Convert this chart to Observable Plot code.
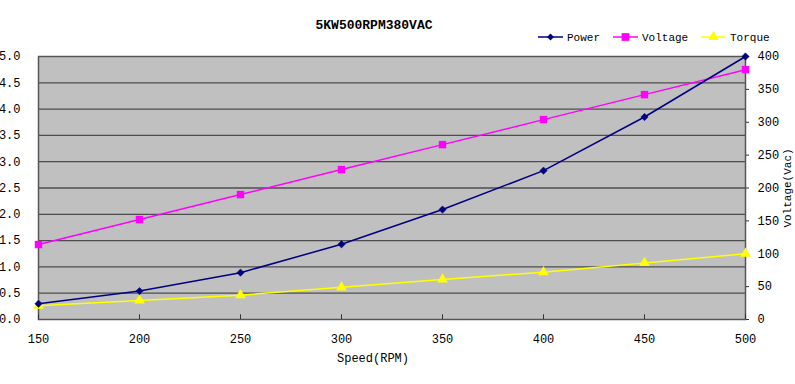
<!DOCTYPE html>
<html><head><meta charset="utf-8">
<script src="https://cdn.jsdelivr.net/npm/d3@7"></script>
<script src="https://cdn.jsdelivr.net/npm/@observablehq/plot@0.6"></script>
<style>
body{margin:0;background:#fff;}
#wrap{position:relative;width:795px;height:384px;font-family:"Liberation Mono","DejaVu Sans Mono",monospace;}
#title{position:absolute;left:0;width:748px;top:18px;text-align:center;font-weight:bold;font-size:13px;}
#legend{position:absolute;left:0;top:0;}
</style></head>
<body><div id="wrap"><div id="title">5KW500RPM380VAC</div></div>
<script>
const speeds = [150, 200, 250, 300, 350, 400, 450, 500];
const power = [0.30, 0.54, 0.89, 1.43, 2.09, 2.83, 3.85, 5.0];      // left axis (kW)
const voltage = [114, 152, 190, 228, 266, 304, 342, 380];           // right axis (Vac)
const torque = [21, 29, 37, 49, 61, 72, 86, 100];                   // right axis scale
const leftTicks = [0, 0.5, 1, 1.5, 2, 2.5, 3, 3.5, 4, 4.5, 5];
const rightTicks = [0, 50, 100, 150, 200, 250, 300, 350, 400];
const xTicks = [150, 200, 250, 300, 350, 400, 450, 500];
const seriesNames = ["Power", "Voltage", "Torque"];
const colors = ["#000080", "#ff00ff", "#ffff00"];

const k = 5 / 400; // right axis to left axis units
const rows = [];
speeds.forEach((s, i) => {
  rows.push({s, series: "Power", y: power[i]});
  rows.push({s, series: "Voltage", y: voltage[i] * k});
  rows.push({s, series: "Torque", y: torque[i] * k});
});
const P = rows.filter(d => d.series === "Power");
const V = rows.filter(d => d.series === "Voltage");
const T = rows.filter(d => d.series === "Torque");

const chart = Plot.plot({
  width: 795, height: 384,
  marginLeft: 38, marginRight: 50, marginTop: 56, marginBottom: 65,
  style: {fontFamily: '"Liberation Mono","DejaVu Sans Mono",monospace', fontSize: "12px", color: "#000", background: "transparent"},
  x: {domain: [150, 500]},
  y: {domain: [0, 5]},
  marks: [
    Plot.frame({fill: "#c0c0c0"}),
    Plot.gridY(leftTicks.slice(1, -1), {stroke: "#3a3a3a", strokeOpacity: 0.85, strokeWidth: 1.3}),
    Plot.frame({stroke: "#555", strokeWidth: 1.5}),
    Plot.ruleX(xTicks, {x: d => d, y1: 0, y2: 0.09, stroke: "#333"}),
    Plot.axisX(xTicks, {tickSize: 0, tickPadding: 15, label: null, fontSize: 12}),
    Plot.axisY(leftTicks, {anchor: "left", tickSize: 0, tickPadding: 18, tickFormat: d => d.toFixed(1), label: null}),
    Plot.axisY(rightTicks.map(v => v * k), {anchor: "right", tickSize: 3, tickPadding: 9, stroke: "#333", tickFormat: d => String(Math.round(d / k)), label: null}),
    Plot.text(["Speed(RPM)"], {frameAnchor: "bottom", dy: 42, dx: -19, text: d => d, fontSize: 12}),
    Plot.text(["Voltage(Vac)"], {frameAnchor: "right", dx: 42, dy: 0, rotate: -90, textAnchor: "middle", text: d => d, fontSize: 11}),
    Plot.line(T, {x: "s", y: "y", stroke: colors[2], strokeWidth: 1.5}),
    Plot.line(V, {x: "s", y: "y", stroke: colors[1], strokeWidth: 1.5}),
    Plot.line(P, {x: "s", y: "y", stroke: colors[0], strokeWidth: 1.5}),
    Plot.dot(T, {x: "s", y: "y", symbol: "triangle", r: 4, fill: colors[2]}),
    Plot.dot(V, {x: "s", y: "y", symbol: "square", r: 4.2, fill: colors[1]}),
    Plot.dot(P, {x: "s", y: "y", symbol: "diamond2", r: 3.3, fill: colors[0], stroke: colors[0], strokeWidth: 0.5})
  ]
});
const wrap = document.getElementById("wrap");
chart.style.position = "absolute";
chart.style.left = "0"; chart.style.top = "0";
wrap.insertBefore(chart, wrap.firstChild);

// legend
const leg = d3.select(wrap).append("svg").attr("id", "legend").attr("width", 795).attr("height", 50);
const legX = [538, 613, 701];
const syms = [d3.symbolDiamond2, d3.symbolSquare, d3.symbolTriangle];
const symSize = [30, 60, 50];
seriesNames.forEach((name, i) => {
  const g = leg.append("g").attr("transform", `translate(${legX[i]},37)`);
  g.append("line").attr("x1", 0).attr("x2", 25).attr("stroke", colors[i]).attr("stroke-width", 1.5);
  g.append("path").attr("d", d3.symbol(syms[i], symSize[i])()).attr("transform", "translate(12.5,0)").attr("fill", colors[i]);
  g.append("text").attr("x", 29).attr("y", 4).attr("font-size", 11).attr("font-family", '"Liberation Mono","DejaVu Sans Mono",monospace').text(name);
});
</script>
</body></html>
